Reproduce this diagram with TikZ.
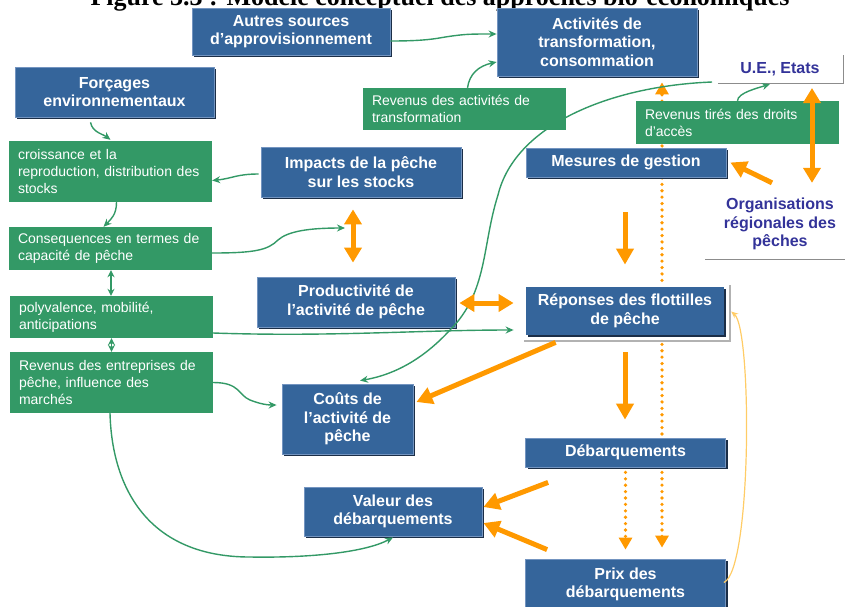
\documentclass[tikz,border=0pt]{standalone}
\usepackage{fontspec}
\setmainfont{Liberation Sans}
\newfontfamily\titlefont{Liberation Serif}
\usetikzlibrary{arrows.meta,shadows,backgrounds}
\definecolor{bxblue}{HTML}{35659B}
\definecolor{bxedge}{HTML}{7394C0}
\definecolor{bxshadow}{HTML}{1B2E47}
\definecolor{grn}{HTML}{339966}
\definecolor{org}{HTML}{FF9900}
\definecolor{lorg}{HTML}{FFCC66}
\definecolor{navy}{HTML}{333399}
\begin{document}
\begin{tikzpicture}[x=1pt,y=-1pt,
  bbox/.style={draw=bxedge, line width=0.8pt, fill=bxblue, text=white,
    font=\bfseries\fontsize{16}{18.5}\selectfont, align=center, inner sep=0pt,
    drop shadow={shadow xshift=2pt, shadow yshift=-2pt, fill=bxshadow, opacity=1}},
  rframe/.style={fill=white, draw=none, inner sep=0pt,
    drop shadow={shadow xshift=2pt, shadow yshift=-2pt, fill=black!30, opacity=1}},
  gbox/.style={fill=grn, text=white, font=\fontsize{14}{17}\selectfont,
    align=left, inner xsep=9pt, inner ysep=0pt, text width=185pt},
  orgtext/.style={text=navy, font=\bfseries\fontsize{16}{18.5}\selectfont, align=center, inner sep=0pt},
  gline/.style={draw=grn, line width=1.4pt, -{Stealth[length=8pt,width=7pt]}},
  gdbl/.style={draw=grn, line width=1.4pt, {Stealth[length=7pt,width=7pt]}-{Stealth[length=7pt,width=7pt]}},
  oarr/.style={draw=org, line width=5pt, -{Triangle[length=16pt,width=17pt]}},
  odbl/.style={draw=org, line width=5pt, {Triangle[length=15pt,width=17pt]}-{Triangle[length=15pt,width=17pt]}},
  odot/.style={draw=org, line width=3.6pt, line cap=round, dash pattern=on 0pt off 6.4pt, -{Triangle[length=12pt,width=13pt]}},
  odotdbl/.style={draw=org, line width=3.6pt, line cap=round, dash pattern=on 0pt off 6.4pt, {Triangle[length=12pt,width=13pt]}-{Triangle[length=12pt,width=13pt]}},
  lcurve/.style={draw=lorg, line width=1.2pt, -{Stealth[length=7pt,width=6pt]}},
  frameline/.style={draw=black!45, line width=1pt}]
\useasboundingbox (0,0) rectangle (845,606);
\clip (0,0) rectangle (845,606);

% title (cut off at the top, as in the reference)
\node[font=\titlefont\bfseries\fontsize{26}{28}\selectfont, anchor=base, inner sep=0pt] (title) at (440,5) {Figure 3.3 : Modèle conceptuel des approches bio-économiques};

% blue boxes
\node[bbox, minimum width=198pt, minimum height=47pt] (autres) at (291,31.5) {Autres sources\\d’approvisionnement};
\node[bbox, minimum width=200pt, minimum height=68pt] (activ) at (597,42) {Activités de\\transformation,\\consommation};
\node[bbox, minimum width=199pt, minimum height=50pt] (forcages) at (114.5,92) {Forçages\\environnementaux};
\node[bbox, minimum width=200pt, minimum height=50pt] (impacts) at (361,172) {Impacts de la pêche\\sur les stocks};
\node[bbox, minimum width=200pt, minimum height=29pt] (mesures) at (626,162.5) {Mesures de gestion};
\node[bbox, minimum width=198pt, minimum height=50pt] (product) at (356,302) {Productivité de\\l’activité de pêche};
\node[rframe, minimum width=207pt, minimum height=57pt] (rfr) at (625.5,311.5) {};
\node[bbox, draw=none, minimum width=198pt, minimum height=48pt, drop shadow={opacity=0}] (reponses) at (625,311) {Réponses des flottilles\\de pêche};
\node[bbox, minimum width=131pt, minimum height=70pt] (couts) at (347.5,419) {Coûts de\\l’activité de\\pêche};
\node[bbox, minimum width=200pt, minimum height=29pt] (debarq) at (625.5,452.5) {Débarquements};
\node[bbox, minimum width=178pt, minimum height=49pt] (valeur) at (393,511.5) {Valeur des\\débarquements};
\node[bbox, minimum width=200pt, minimum height=51pt] (prix) at (625.5,584.5) {Prix des\\débarquements};

% green boxes
\node[gbox, minimum height=42pt] (revact) at (464.5,109) {Revenus des activités de\\transformation};
\node[gbox, minimum height=43pt] (revdroits) at (737.5,122.5) {Revenus tirés des droits\\d’accès};
\node[gbox, minimum height=61pt] (croiss) at (110.5,171.5) {croissance et la\\reproduction, distribution des\\stocks};
\node[gbox, minimum height=43pt] (conseq) at (110.5,248.5) {Consequences en termes de\\capacité de pêche};
\node[gbox, minimum height=42pt] (polyv) at (111.5,317) {polyvalence, mobilité,\\anticipations};
\node[gbox, minimum height=61pt] (reventr) at (111.5,382.5) {Revenus des entreprises de\\pêche, influence des\\marchés};

% institutional labels
\node[orgtext] (ue) at (780,69) {U.E., Etats};
\coordinate (uebl) at (718,83);
\coordinate (uebr) at (843,83);
\coordinate (uetr) at (843,55);
\draw[frameline] (uebl) -- (uebr) -- (uetr);
\node[orgtext] (orgs) at (780,224) {Organisations\\régionales des\\pêches};
\coordinate (orgl) at (705,259);
\coordinate (orgr) at (845,259);
\draw[frameline] (orgl) -- (orgr);

% dotted arrows behind the boxes
\begin{scope}[on background layer]
\draw[odotdbl] ([xshift=36.5pt,yshift=11pt]prix.north) -- ([xshift=65pt,yshift=-6pt]activ.south);
\end{scope}
\draw[odot] ([yshift=-5pt]debarq.south) -- ([yshift=9pt]prix.north);

% green connectors
\draw[gline] ([yshift=-9.5pt]autres.east) .. controls +(40,0) and +(-15,2) .. (452,36) .. controls +(15,-2) and +(-25,0) .. ([yshift=8pt]activ.west);
\draw[gline] ([xshift=3pt]revact.north) .. controls +(2,-14) and +(-18,4) .. ([yshift=-20pt]activ.west);
\draw[gline] ([xshift=-24pt,yshift=-5pt]forcages.south) .. controls +(2,10) and +(-8,-6) .. ([yshift=1pt]croiss.north);
\draw[gline] ([xshift=-2pt,yshift=-2pt]impacts.west) .. controls +(-22,0) and +(20,-2) .. ([yshift=-9pt]croiss.east);
\draw[gline] ([xshift=6pt]croiss.south) .. controls +(0,12) and +(8,-8) .. ([xshift=-7pt]conseq.north);
\coordinate (prodrel) at (345,228);
\draw[gline] ([yshift=-4.5pt]conseq.east) .. controls +(43,0) and +(-10,10) .. (278,240) .. controls +(10,-9) and +(-35,0) .. (prodrel);
\draw[gdbl] ([xshift=0.5pt]conseq.south) -- ([xshift=-0.5pt]polyv.north);
\draw[gdbl] (polyv.south) -- (reventr.north);
\draw[gline] ([yshift=-16pt]polyv.east) .. controls +(117,4) and +(-94,0) .. ([xshift=-12pt,yshift=-19pt]reponses.west);
\draw[gline] (reventr.east) .. controls +(27,0) and +(-12,-5) .. (250,400) .. controls +(10,4) and +(-9,0) .. ([xshift=-5pt,yshift=14pt]couts.west);
\draw[gline] ([xshift=-1.5pt]reventr.south) .. controls +(2,77) and +(-100,0) .. (250,557) .. controls +(60,1) and +(-28,15) .. ([yshift=-1pt]valeur.south);
\coordinate (uel) at (712,82);
\draw[gline] (uel) .. controls (610,86) and (515,125) .. (498,195) .. controls (482,245) and (488,292) .. (450,330) .. controls (426,356) and (398,374) .. ([xshift=12.5pt,yshift=3pt]couts.north);
\draw[gline] (revdroits.north) .. controls +(0,-8) and +(-12,4) .. ([xshift=52pt,yshift=-1pt]uebl);

% orange connectors
\draw[odbl] ([xshift=-8pt,yshift=-12pt]impacts.south) -- ([xshift=-3pt,yshift=14pt]product.north);
\draw[odbl] ([xshift=4pt,yshift=-1pt]product.east) -- ([xshift=-12pt,yshift=8pt]reponses.west);
\draw[oarr] ([xshift=30pt,yshift=-7pt]reponses.south west) -- ([xshift=3pt,yshift=17pt]couts.east);
\draw[oarr] ([xshift=-1pt,yshift=-35pt]mesures.south) -- ([yshift=22pt]reponses.north);
\draw[oarr] ([yshift=-17pt]reponses.south) -- ([xshift=-0.5pt,yshift=18pt]debarq.north);
\draw[oarr] ([xshift=-8pt,yshift=15pt]orgs.north) -- ([xshift=4pt]mesures.east);
\draw[odbl] ([xshift=32pt,yshift=-19pt]ue.center) -- ([xshift=32pt,yshift=15pt]orgs.north);
\draw[oarr] ([xshift=23pt,yshift=-15pt]debarq.south west) -- ([xshift=1pt,yshift=4.5pt]valeur.east);
\draw[oarr] ([xshift=22pt,yshift=9pt]prix.north west) -- ([xshift=1pt,yshift=-11.5pt]valeur.east);
\draw[lcurve] ([xshift=-2pt,yshift=2pt]prix.east) .. controls +(28,-13) and +(21,18) .. ([xshift=2pt]rfr.east);
\end{tikzpicture}
\end{document}
